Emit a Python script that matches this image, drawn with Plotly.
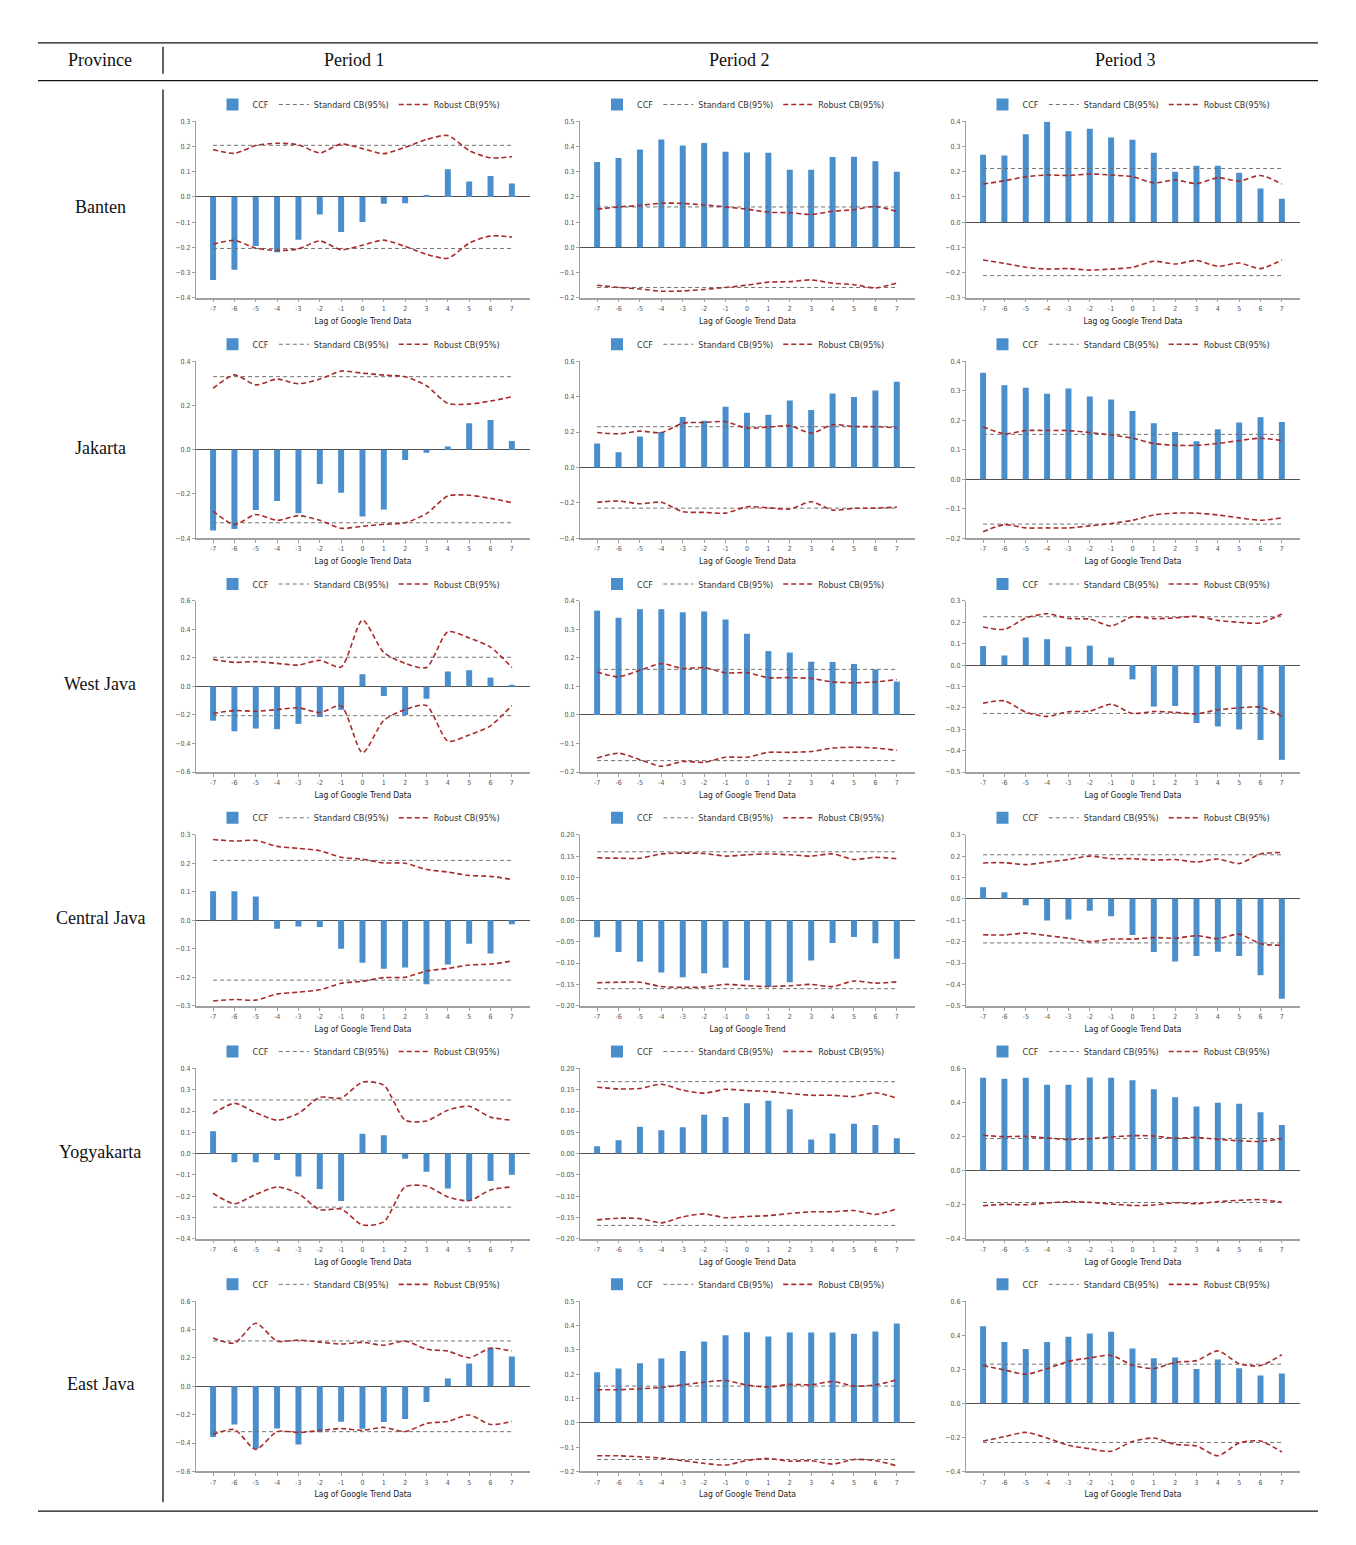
import plotly.graph_objects as go

LAGS = list(range(-7, 8))
PROVINCES = ["Banten", "Jakarta", "West Java", "Central Java", "Yogyakarta", "East Java"]
PERIODS = ["Period 1", "Period 2", "Period 3"]

# CCF bars, robust CB (upper; lower is the mirror), standard CB, per period
BANTEN_CCF = [
    [-0.33, -0.29, -0.195, -0.22, -0.17, -0.07, -0.14, -0.10, -0.027, -0.025, 0.008, 0.11, 0.061, 0.083, 0.053],
    [0.339, 0.355, 0.388, 0.428, 0.404, 0.414, 0.379, 0.376, 0.375, 0.308, 0.308, 0.359, 0.36, 0.342, 0.30],
    [0.268, 0.265, 0.349, 0.399, 0.361, 0.371, 0.336, 0.327, 0.275, 0.20, 0.224, 0.224, 0.196, 0.133, 0.093],
]
BANTEN_ROB = [
    [0.188, 0.173, 0.204, 0.213, 0.207, 0.175, 0.21, 0.192, 0.172, 0.197, 0.228, 0.244, 0.184, 0.155, 0.16],
    [0.151, 0.16, 0.166, 0.175, 0.174, 0.168, 0.16, 0.151, 0.139, 0.137, 0.13, 0.143, 0.149, 0.162, 0.142],
    [0.151, 0.164, 0.18, 0.187, 0.185, 0.191, 0.187, 0.18, 0.156, 0.167, 0.153, 0.176, 0.163, 0.185, 0.151],
]
BANTEN_STD = [0.205, 0.16, 0.213]

JAKARTA_CCF = [
    [-0.365, -0.358, -0.272, -0.232, -0.287, -0.155, -0.195, -0.302, -0.27, -0.047, -0.014, 0.015, 0.12, 0.134, 0.039],
    [0.135, 0.085, 0.175, 0.2, 0.285, 0.264, 0.343, 0.309, 0.298, 0.378, 0.324, 0.417, 0.397, 0.435, 0.484],
    [0.361, 0.318, 0.31, 0.29, 0.307, 0.28, 0.27, 0.231, 0.19, 0.16, 0.129, 0.169, 0.192, 0.21, 0.194],
]
JAKARTA_ROB = [
    [0.277, 0.338, 0.293, 0.319, 0.298, 0.319, 0.355, 0.346, 0.337, 0.33, 0.289, 0.209, 0.206, 0.22, 0.239],
    [0.197, 0.19, 0.205, 0.197, 0.25, 0.254, 0.258, 0.222, 0.228, 0.235, 0.194, 0.241, 0.231, 0.23, 0.224],
    [0.178, 0.154, 0.165, 0.165, 0.165, 0.158, 0.15, 0.139, 0.121, 0.115, 0.115, 0.121, 0.131, 0.139, 0.131],
]
JAKARTA_STD = [0.33, 0.23, 0.152]

WESTJAVA_CCF = [
    [-0.24, -0.314, -0.295, -0.3, -0.262, -0.214, -0.164, 0.086, -0.067, -0.2, -0.086, 0.105, 0.114, 0.062, 0.012],
    [0.366, 0.341, 0.371, 0.371, 0.36, 0.363, 0.335, 0.285, 0.224, 0.219, 0.187, 0.186, 0.179, 0.16, 0.117],
    [0.089, 0.045, 0.129, 0.121, 0.086, 0.091, 0.035, -0.067, -0.194, -0.191, -0.271, -0.287, -0.301, -0.35, -0.443],
]
WESTJAVA_ROB = [
    [0.19, 0.169, 0.174, 0.162, 0.15, 0.183, 0.136, 0.465, 0.238, 0.162, 0.133, 0.383, 0.34, 0.276, 0.133],
    [0.151, 0.134, 0.157, 0.18, 0.163, 0.166, 0.148, 0.148, 0.131, 0.131, 0.128, 0.116, 0.113, 0.116, 0.124],
    [0.178, 0.167, 0.22, 0.24, 0.218, 0.215, 0.183, 0.226, 0.217, 0.221, 0.228, 0.209, 0.2, 0.197, 0.239],
]
WESTJAVA_STD = [0.205, 0.16, 0.226]

CENTRALJAVA_CCF = [
    [0.102, 0.102, 0.083, -0.03, -0.022, -0.024, -0.1, -0.149, -0.17, -0.166, -0.224, -0.155, -0.082, -0.117, -0.014],
    [-0.04, -0.074, -0.097, -0.122, -0.133, -0.124, -0.111, -0.14, -0.156, -0.145, -0.094, -0.053, -0.039, -0.054, -0.09],
    [0.054, 0.031, -0.03, -0.101, -0.096, -0.056, -0.081, -0.169, -0.248, -0.293, -0.267, -0.247, -0.267, -0.357, -0.467],
]
CENTRALJAVA_ROB = [
    [0.283, 0.278, 0.28, 0.259, 0.252, 0.244, 0.221, 0.214, 0.201, 0.2, 0.178, 0.169, 0.157, 0.154, 0.143],
    [0.146, 0.145, 0.145, 0.155, 0.157, 0.156, 0.15, 0.153, 0.155, 0.153, 0.15, 0.155, 0.142, 0.147, 0.144],
    [0.168, 0.169, 0.16, 0.172, 0.184, 0.2, 0.188, 0.188, 0.181, 0.184, 0.172, 0.186, 0.165, 0.21, 0.217],
]
CENTRALJAVA_STD = [0.21, 0.16, 0.206]

YOGYAKARTA_CCF = [
    [0.105, -0.041, -0.041, -0.031, -0.108, -0.167, -0.223, 0.093, 0.086, -0.025, -0.086, -0.164, -0.223, -0.129, -0.1],
    [0.017, 0.031, 0.063, 0.055, 0.062, 0.091, 0.086, 0.118, 0.124, 0.104, 0.033, 0.047, 0.07, 0.067, 0.036],
    [0.545, 0.539, 0.545, 0.504, 0.504, 0.547, 0.545, 0.531, 0.478, 0.431, 0.376, 0.398, 0.392, 0.343, 0.268],
]
YOGYAKARTA_ROB = [
    [0.187, 0.236, 0.192, 0.157, 0.189, 0.264, 0.261, 0.336, 0.321, 0.157, 0.153, 0.204, 0.222, 0.171, 0.157],
    [0.156, 0.152, 0.153, 0.163, 0.149, 0.142, 0.151, 0.148, 0.146, 0.141, 0.137, 0.137, 0.134, 0.143, 0.13],
    [0.207, 0.199, 0.201, 0.191, 0.183, 0.187, 0.197, 0.205, 0.203, 0.189, 0.195, 0.183, 0.175, 0.171, 0.187],
]
YOGYAKARTA_STD = [0.252, 0.169, 0.188]

EASTJAVA_CCF = [
    [-0.357, -0.269, -0.44, -0.298, -0.41, -0.324, -0.25, -0.3, -0.252, -0.231, -0.11, 0.055, 0.16, 0.274, 0.21],
    [0.208, 0.223, 0.245, 0.264, 0.295, 0.334, 0.36, 0.372, 0.355, 0.371, 0.371, 0.371, 0.366, 0.376, 0.408],
    [0.453, 0.361, 0.32, 0.361, 0.392, 0.41, 0.42, 0.322, 0.265, 0.269, 0.202, 0.257, 0.206, 0.163, 0.176],
]
EASTJAVA_ROB = [
    [0.34, 0.305, 0.445, 0.319, 0.326, 0.312, 0.298, 0.31, 0.29, 0.319, 0.262, 0.248, 0.202, 0.269, 0.248],
    [0.136, 0.136, 0.14, 0.145, 0.156, 0.167, 0.174, 0.155, 0.147, 0.158, 0.156, 0.17, 0.151, 0.156, 0.177],
    [0.222, 0.196, 0.171, 0.204, 0.247, 0.267, 0.282, 0.224, 0.204, 0.241, 0.251, 0.308, 0.233, 0.222, 0.286],
]
EASTJAVA_STD = [0.32, 0.151, 0.23]

CCF = [BANTEN_CCF, JAKARTA_CCF, WESTJAVA_CCF, CENTRALJAVA_CCF, YOGYAKARTA_CCF, EASTJAVA_CCF]
ROB = [BANTEN_ROB, JAKARTA_ROB, WESTJAVA_ROB, CENTRALJAVA_ROB, YOGYAKARTA_ROB, EASTJAVA_ROB]
STD = [BANTEN_STD, JAKARTA_STD, WESTJAVA_STD, CENTRALJAVA_STD, YOGYAKARTA_STD, EASTJAVA_STD]

# y axis (low, high, step) for each panel
Y_AXES = [
    [(-0.4, 0.3, 0.1), (-0.2, 0.5, 0.1), (-0.3, 0.4, 0.1)],
    [(-0.4, 0.4, 0.2), (-0.4, 0.6, 0.2), (-0.2, 0.4, 0.1)],
    [(-0.6, 0.6, 0.2), (-0.2, 0.4, 0.1), (-0.5, 0.3, 0.1)],
    [(-0.3, 0.3, 0.1), (-0.2, 0.2, 0.05), (-0.5, 0.3, 0.1)],
    [(-0.4, 0.4, 0.1), (-0.2, 0.2, 0.05), (-0.4, 0.6, 0.2)],
    [(-0.6, 0.6, 0.2), (-0.2, 0.5, 0.1), (-0.4, 0.6, 0.2)],
]
X_TITLES = {(0, 2): "Lag og Google Trend Data", (3, 1): "Lag of Google Trend"}

# page pixels; the html body has an 8px margin, so the figure starts at (8, 8)
W, H, PAD = 1356, 1545, 8
FW, FH = W - PAD, H - PAD
COLS = [(196, 530), (580, 915), (966, 1300)]
ROWS = [(118, 295), (359, 537), (600, 772), (835, 1007), (1070, 1241), (1304, 1475)]

BLUE = "#4a8ecb"
RED = "#a82a2a"
GREY = "#707070"
NARROW = "Liberation Sans Narrow, DejaVu Sans Condensed, Arial Narrow, Liberation Sans, sans-serif"
SERIF = "Liberation Serif, Times New Roman, serif"


def px(x):
    return (x - PAD) / FW


def py(y):
    return 1 - (y - PAD) / FH


fig = go.Figure()
layout = {}
k = 0
for r, prov in enumerate(PROVINCES):
    for c in range(3):
        k += 1
        sfx = "" if k == 1 else str(k)
        xa, ya, lg = "x" + sfx, "y" + sfx, "legend" + sfx
        ccf, rob, std = CCF[r][c], ROB[r][c], STD[r][c]
        fig.add_bar(x=LAGS, y=ccf, width=0.28, marker=dict(color=BLUE, line_width=0),
                    name="CCF", xaxis=xa, yaxis=ya, legend=lg)
        for i, sign in enumerate((1, -1)):
            fig.add_scatter(x=LAGS, y=[sign * std] * len(LAGS), mode="lines",
                            line=dict(color=GREY, width=1, dash="4px,3px"),
                            name="Standard CB(95%)", showlegend=(i == 0), legendgroup="s",
                            xaxis=xa, yaxis=ya, legend=lg)
        for i, sign in enumerate((1, -1)):
            fig.add_scatter(x=LAGS, y=[sign * v for v in rob], mode="lines",
                            line=dict(color=RED, width=1.6, dash="5px,3px", shape="spline", smoothing=0.7),
                            name="Robust CB(95%)", showlegend=(i == 0), legendgroup="r",
                            xaxis=xa, yaxis=ya, legend=lg)

        x0, x1 = COLS[c]
        top, bot = ROWS[r]
        lo, hi, step = Y_AXES[r][c]
        layout["xaxis" + sfx] = dict(
            domain=[px(x0), px(x1)], anchor=ya, range=[-7.8, 7.85],
            tickvals=LAGS, ticktext=[str(v) for v in LAGS],
            showline=True, linecolor="#a0a0a0", linewidth=1.5,
            ticks="outside", ticklen=3, tickcolor="#a0a0a0", showgrid=False, zeroline=False,
            tickfont=dict(size=7, family=NARROW, color="#555"),
            title=dict(text=X_TITLES.get((r, c), "Lag of Google Trend Data"), standoff=6,
                       font=dict(size=8.5, family=NARROW, color="#222")),
        )
        layout["yaxis" + sfx] = dict(
            domain=[py(bot), py(top)], anchor=xa, range=[lo - 1e-6, hi + 1e-6],
            tick0=0, dtick=step, tickformat=".2f" if step < 0.1 else ".1f",
            showline=True, linecolor="#a0a0a0", linewidth=1,
            ticks="outside", ticklen=3, tickcolor="#a0a0a0", showgrid=False,
            zeroline=True, zerolinecolor="#505050", zerolinewidth=1.2,
            tickfont=dict(size=7, family=NARROW, color="#555"),
        )
        layout[lg] = dict(
            orientation="h", x=px((x0 + x1) / 2 - 4), y=py(top - 17), xanchor="center", yanchor="middle",
            font=dict(size=9, family=NARROW, color="#333"), bgcolor="rgba(0,0,0,0)",
            itemwidth=30, tracegroupgap=0,
        )

# table frame
shapes = []
for y in (39, 77, 1515):
    shapes.append(dict(type="line", xref="paper", yref="paper", x0=px(38), x1=px(1318),
                       y0=py(y), y1=py(y), line=dict(color="#111", width=1.4)))
for y0, y1 in ((43, 70), (86, 1506)):
    shapes.append(dict(type="line", xref="paper", yref="paper", x0=px(163), x1=px(163),
                       y0=py(y0), y1=py(y1), line=dict(color="#222", width=1.4)))

annotations = [dict(text="Province", x=px(100), y=py(56))]
for c, name in enumerate(PERIODS):
    annotations.append(dict(text=name, x=px((COLS[c][0] + COLS[c][1]) / 2 - 8), y=py(56)))
for r, prov in enumerate(PROVINCES):
    annotations.append(dict(text=prov, x=px(100), y=py((ROWS[r][0] + ROWS[r][1]) / 2 - 2)))
for a in annotations:
    a.update(xref="paper", yref="paper", showarrow=False, xanchor="center", yanchor="middle",
             font=dict(size=18, family=SERIF, color="#111"))

fig.update_layout(
    width=FW, height=FH, margin=dict(l=0, r=0, t=0, b=0),
    paper_bgcolor="white", plot_bgcolor="white", barmode="overlay",
    shapes=shapes, annotations=annotations, **layout,
)
fig.write_html("out.html")
